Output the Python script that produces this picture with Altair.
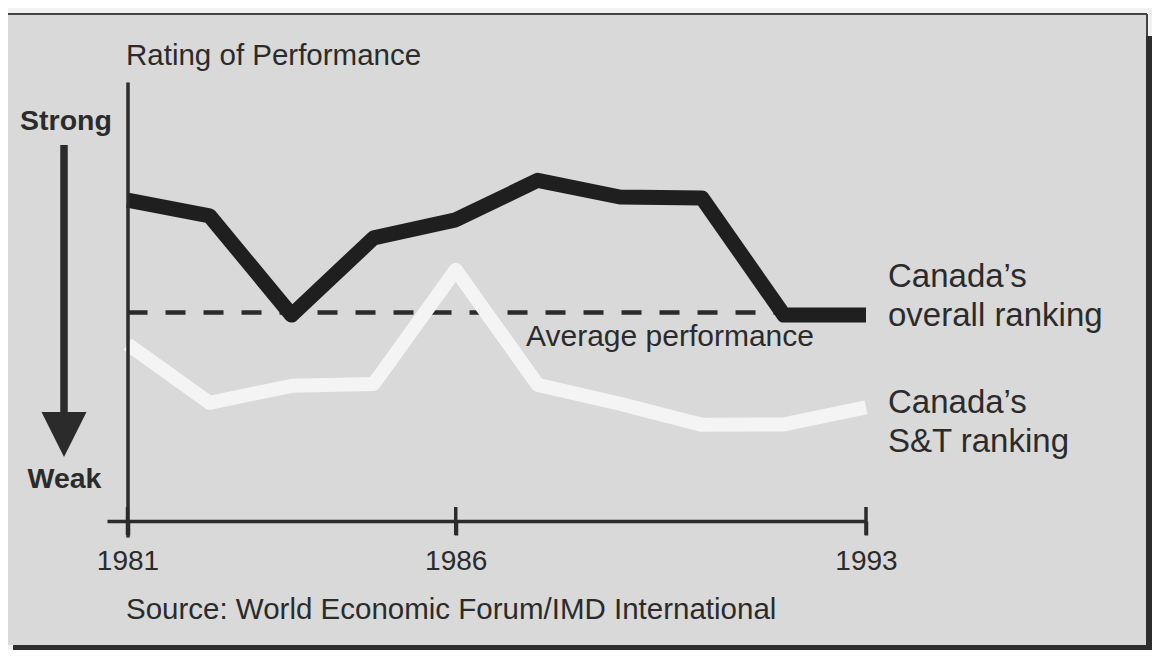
import altair as alt
import pandas as pd

# ---------------- data ----------------
point_index = list(range(10))                       # survey points, 1981 ... 1993
overall_ranking = [73.1, 69.5, 46.9, 64.5, 68.6, 77.6, 73.8, 73.6, 46.9, 46.9]
st_ranking = [40.3, 26.9, 30.8, 31.2, 57.2, 31.0, 26.7, 21.9, 22.0, 25.9]
average_performance = [47.5]
tick_positions = [0, 4, 9]
tick_labels = ["1981", "1986", "1993"]

series_label_overall = ["Canada\u2019s", "overall ranking"]
series_label_st = ["Canada\u2019s", "S&T ranking"]
y_title = "Rating of Performance"
strong_label = "Strong"
weak_label = "Weak"
average_label = "Average performance"
source_label = "Source: World Economic Forum/IMD International"

# ---------------- styling ----------------
FONT = "Liberation Sans"
INK = "#2b2b2b"
PANEL = "#d9d9d9"
DARK = "#2e2e2e"

df = pd.DataFrame({"idx": point_index, "overall": overall_ranking, "st": st_ranking})
avg_df = pd.DataFrame({"x0": [point_index[0]], "x1": [point_index[-1]], "v": average_performance})
tick_df = pd.DataFrame({"idx": tick_positions})
one = pd.DataFrame({"k": [0]})

xscale = alt.Scale(domain=[-0.25, 9], nice=False, zero=False)
yscale = alt.Scale(domain=[-3.645, 100], nice=False, zero=False)

label_expr = " : ".join(
    [f"datum.value == {p} ? '{l}'" for p, l in zip(tick_positions, tick_labels)]
) + " : ''"

x_axis = alt.Axis(
    orient="bottom", offset=-16, values=tick_positions, labelExpr=label_expr,
    domainColor=INK, domainWidth=3.5, domainCap="butt",
    tickColor=INK, tickWidth=3.5, tickSize=14,
    labelPadding=12, labelFontSize=28, labelFont=FONT, labelColor=INK,
    labelFlush=False, labelOverlap=False, labelBound=False, labelAngle=0,
    grid=False, title=None, zindex=2,
)
y_axis = alt.Axis(
    orient="left", offset=-20.5, domainColor=INK, domainWidth=3.5,
    ticks=False, labels=False, grid=False, title=None, zindex=2,
)

base_one = alt.Chart(one)

# decorative page: panel, border and shadow
panel = base_one.mark_rect(fill=PANEL).encode(
    x=alt.value(-99), x2=alt.value(1040), y=alt.value(-68), y2=alt.value(563)
)
top_border = base_one.mark_rule(color="#444444", strokeWidth=2).encode(
    x=alt.value(-99), x2=alt.value(1040), y=alt.value(-68)
)
right_border = base_one.mark_rule(color="#444444", strokeWidth=2).encode(
    x=alt.value(1040), y=alt.value(-68), y2=alt.value(-46)
)
shadow_right = base_one.mark_rect(fill=DARK).encode(
    x=alt.value(1039), x2=alt.value(1045), y=alt.value(-46), y2=alt.value(568)
)
shadow_bottom = base_one.mark_rect(fill=DARK).encode(
    x=alt.value(-94), x2=alt.value(1045), y=alt.value(563), y2=alt.value(568)
)

# average dashed rule
avg_rule = alt.Chart(avg_df).mark_rule(
    color=INK, strokeWidth=4.5, strokeDash=[20, 18]
).encode(
    x=alt.X("x0:Q", scale=xscale, axis=x_axis),
    x2="x1:Q",
    y=alt.Y("v:Q", scale=yscale, axis=y_axis),
)

# white S&T line
st_line = alt.Chart(df).mark_line(
    color="#f4f4f4", strokeWidth=14, strokeJoin="round", strokeCap="butt"
).encode(
    x=alt.X("idx:Q", scale=xscale, axis=x_axis),
    y=alt.Y("st:Q", scale=yscale, axis=y_axis),
)

# black overall line
overall_line = alt.Chart(df).mark_line(
    color="#1f1f1f", strokeWidth=15, strokeJoin="round", strokeCap="butt"
).encode(
    x=alt.X("idx:Q", scale=xscale, axis=x_axis),
    y=alt.Y("overall:Q", scale=yscale, axis=y_axis),
)

# ticks crossing the x axis
cross_ticks = alt.Chart(tick_df).mark_tick(
    color=INK, orient="vertical", size=28, thickness=3.5, opacity=1
).encode(
    x=alt.X("idx:Q", scale=xscale, axis=x_axis),
    y=alt.datum(0, scale=yscale, axis=y_axis),
)

# arrow Strong -> Weak
arrow_shaft = base_one.mark_rule(color=INK, strokeWidth=7.5, strokeCap="butt").encode(
    x=alt.value(-43), y=alt.value(63), y2=alt.value(331)
)
arrow_head = base_one.mark_point(
    shape="M-1,-1L1,-1L0,1Z", filled=True, color=INK, opacity=1, size=2025, strokeWidth=0
).encode(x=alt.value(-43), y=alt.value(352.5))


def txt(text, x, y, size, align="left", weight="normal"):
    return base_one.mark_text(
        text=text, font=FONT, fontSize=size, fontWeight=weight, color=INK,
        align=align, baseline="alphabetic",
    ).encode(x=alt.value(x), y=alt.value(y))


texts = [
    txt(y_title, 19, -17, 29.5),
    txt(strong_label, -41, 48, 28.5, align="center", weight="bold"),
    txt(weak_label, -42.5, 406, 28.5, align="center", weight="bold"),
    txt(average_label, 419, 264, 30),
    txt(series_label_overall[0], 781, 205, 33),
    txt(series_label_overall[1], 781, 244, 33),
    txt(series_label_st[0], 781, 331, 33),
    txt(series_label_st[1], 781, 370, 33),
    txt(source_label, 19, 537, 29.5),
]

chart = alt.layer(
    panel, top_border, right_border, shadow_right, shadow_bottom,
    avg_rule, st_line, overall_line, cross_ticks,
    arrow_shaft, arrow_head, *texts,
).properties(
    width=759,
    height=455,
    autosize=alt.AutoSizeParams(type="none"),
    padding={"left": 99, "top": 74, "right": 286, "bottom": 113},
    background="#f1f1f1",
).configure_view(stroke=None)

chart.save("out.html", embed_options={"renderer": "svg", "actions": False})
